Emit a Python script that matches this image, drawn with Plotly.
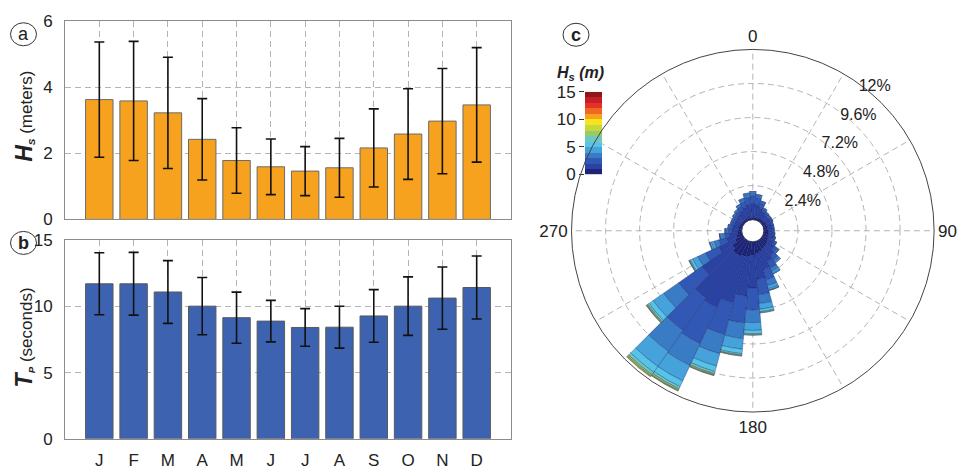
import plotly.graph_objects as go

# ---------------- data ----------------
months = ["J", "F", "M", "A", "M", "J", "J", "A", "S", "O", "N", "D"]
month_pos = [1, 2, 3, 4, 5, 6, 7, 8, 9, 10, 11, 12]
hs_mean = [3.62, 3.58, 3.22, 2.42, 1.78, 1.59, 1.46, 1.56, 2.16, 2.58, 2.97, 3.46]
hs_std = [1.74, 1.80, 1.68, 1.23, 0.99, 0.84, 0.74, 0.89, 1.18, 1.37, 1.59, 1.73]
tp_mean = [11.71, 11.71, 11.09, 10.02, 9.15, 8.89, 8.41, 8.43, 9.28, 10.02, 10.63, 11.43]
tp_std = [2.34, 2.37, 2.37, 2.16, 1.93, 1.57, 1.42, 1.58, 1.99, 2.21, 2.35, 2.38]

directions = [0, 10, 20, 30, 40, 50, 60, 70, 80, 90, 100, 110, 120, 130, 140, 150, 160, 170,
              180, 190, 200, 210, 220, 230, 240, 250, 260, 270, 280, 290, 300, 310, 320, 330, 340, 350]
hs_0_1 = [0.15, 0.15, 0.15, 0.17, 0.2, 0.22, 0.25, 0.27, 0.28, 0.3, 0.32, 0.36, 0.42, 0.5, 0.58, 0.65, 0.75, 0.85,
          0.95, 1.05, 1.1, 1.2, 1.2, 1.0, 0.6, 0.4, 0.3, 0.25, 0.22, 0.2, 0.18, 0.17, 0.16, 0.15, 0.15, 0.15]
hs_1_2 = [1.0, 0.95, 0.75, 0.52, 0.42, 0.38, 0.37, 0.33, 0.32, 0.31, 0.33, 0.37, 0.45, 0.6, 0.78, 0.97, 1.3, 1.8,
          2.3, 2.8, 3.4, 4.0, 3.8, 2.6, 1.3, 0.75, 0.55, 0.45, 0.42, 0.4, 0.42, 0.48, 0.54, 0.65, 0.8, 0.95]
hs_2_3 = [0.55, 0.45, 0.33, 0.2, 0.15, 0.14, 0.13, 0.11, 0.11, 0.1, 0.11, 0.12, 0.16, 0.25, 0.36, 0.5, 0.75, 1.1,
          1.55, 1.9, 2.3, 2.8, 2.8, 2.0, 1.0, 0.55, 0.35, 0.25, 0.2, 0.18, 0.18, 0.21, 0.24, 0.3, 0.39, 0.48]
hs_3_4 = [0.2, 0.17, 0.12, 0.08, 0.06, 0.05, 0.04, 0.04, 0.04, 0.04, 0.03, 0.04, 0.05, 0.1, 0.16, 0.25, 0.42, 0.62,
          0.9, 1.1, 1.4, 1.7, 1.8, 1.3, 0.6, 0.35, 0.2, 0.14, 0.11, 0.09, 0.09, 0.1, 0.11, 0.13, 0.18, 0.22]
hs_4_5 = [0.08, 0.06, 0.04, 0.03, 0.02, 0.01, 0.01, 0, 0, 0, 0.01, 0.01, 0.02, 0.04, 0.09, 0.15, 0.24, 0.4,
          0.55, 0.75, 0.9, 1.2, 1.3, 0.9, 0.4, 0.2, 0.12, 0.07, 0.04, 0.03, 0.03, 0.04, 0.05, 0.06, 0.06, 0.08]
hs_5_6 = [0.02, 0.02, 0.01, 0, 0, 0, 0, 0, 0, 0, 0, 0, 0, 0.01, 0.03, 0.06, 0.09, 0.18,
          0.23, 0.32, 0.4, 0.45, 0.5, 0.35, 0.18, 0.1, 0.05, 0.03, 0.01, 0, 0, 0, 0, 0.01, 0.02, 0.02]
hs_6_7 = [0, 0, 0, 0, 0, 0, 0, 0, 0, 0, 0, 0, 0, 0, 0, 0.02, 0.03, 0.06,
          0.07, 0.1, 0.15, 0.17, 0.2, 0.12, 0.07, 0.03, 0.02, 0.01, 0, 0, 0, 0, 0, 0, 0, 0]
hs_7_8 = [0, 0, 0, 0, 0, 0, 0, 0, 0, 0, 0, 0, 0, 0, 0, 0, 0.02, 0.04,
          0.05, 0.05, 0.08, 0.1, 0.1, 0.07, 0.03, 0.02, 0.01, 0, 0, 0, 0, 0, 0, 0, 0, 0]
hs_8_9 = [0, 0, 0, 0, 0, 0, 0, 0, 0, 0, 0, 0, 0, 0, 0, 0, 0, 0,
          0, 0.03, 0.05, 0.05, 0.06, 0.04, 0.02, 0, 0, 0, 0, 0, 0, 0, 0, 0, 0, 0]
hs_9_10 = [0, 0, 0, 0, 0, 0, 0, 0, 0, 0, 0, 0, 0, 0, 0, 0, 0, 0,
           0, 0, 0.02, 0.03, 0.04, 0.02, 0, 0, 0, 0, 0, 0, 0, 0, 0, 0, 0, 0]
rose_classes = [hs_0_1, hs_1_2, hs_2_3, hs_3_4, hs_4_5, hs_5_6, hs_6_7, hs_7_8, hs_8_9, hs_9_10]
class_labels = ["0-1", "1-2", "2-3", "3-4", "4-5", "5-6", "6-7", "7-8", "8-9", "9-10"]
hs_levels = [0, 1, 2, 3, 4, 5, 6, 7, 8, 9, 10, 11, 12, 13, 14]
level_colors = ["#1d2478", "#2a42a2", "#3158b4", "#3a7bc6", "#45a2db", "#55c4e6", "#6fc8bd", "#97cb66",
                "#c6d83e", "#f6e51a", "#f7a11c", "#f06724", "#e63128", "#c41f27", "#8e1717"]
radial_ticks = [2.4, 4.8, 7.2, 9.6, 12]
radial_ticktext = ["2.4%", "4.8%", "7.2%", "9.6%", "12%"]

# ---------------- geometry helpers (page has an 8px body margin) ----------------
OFF = 8
W, H = 969 - OFF, 475 - OFF
def px(x):
    return (x - OFF) / W
def py(y):
    return 1 - (y - OFF) / H

FONT = "Liberation Sans, Arial, sans-serif"
GRID = "#b4b4b4"
DASH = "6px,4px"
RAD_ANGLE = 57

fig = go.Figure()

# panel a
fig.add_trace(go.Bar(
    x=month_pos, y=hs_mean, width=0.8, xaxis="x", yaxis="y",
    marker=dict(color="#f7a21f", line=dict(color="#6b6b6b", width=1)),
    error_y=dict(type="data", array=hs_std, color="#111", thickness=1.6, width=5),
    showlegend=False))
# panel b
fig.add_trace(go.Bar(
    x=month_pos, y=tp_mean, width=0.8, xaxis="x2", yaxis="y2",
    marker=dict(color="#3d63b0", line=dict(color="#5a5a5a", width=1)),
    error_y=dict(type="data", array=tp_std, color="#111", thickness=1.6, width=5),
    showlegend=False))

# panel c: stacked rose
for vals, lab, col in zip(rose_classes, class_labels, level_colors):
    fig.add_trace(go.Barpolar(
        r=vals, theta=directions, width=10, name=lab,
        marker=dict(color=col, line=dict(color="rgba(25,35,100,0.55)", width=0.6)),
        showlegend=False, subplot="polar"))

# colour scale strip
fig.add_trace(go.Heatmap(
    z=[[v] for v in hs_levels], y=[v + 0.5 for v in hs_levels], x=[0],
    colorscale=[[i / (len(level_colors) - 1), c] for i, c in enumerate(level_colors)],
    zmin=0, zmax=len(level_colors) - 1, showscale=False, xaxis="x3", yaxis="y3",
    hoverinfo="skip"))

axis_common = dict(showline=True, linecolor="#8c8c8c", linewidth=1, mirror=True,
                   showgrid=True, gridcolor=GRID, griddash=DASH, gridwidth=1,
                   zeroline=False, ticks="", tickfont=dict(size=17, family=FONT, color="#222"))

fig.update_layout(
    width=W, height=H, autosize=False,
    margin=dict(l=0, r=0, t=0, b=0),
    paper_bgcolor="white", plot_bgcolor="white",
    font=dict(family=FONT, color="#222"),
    xaxis=dict(domain=[px(65), px(511)], range=[0, 13], tickvals=month_pos, ticktext=months,
               showticklabels=False, anchor="y", **axis_common),
    yaxis=dict(domain=[py(219), py(12)], range=[0, 6], tickvals=[0, 2, 4, 6],
               anchor="x", ticklabelstandoff=8, **axis_common),
    xaxis2=dict(domain=[px(65), px(511)], range=[0, 13], tickvals=month_pos, ticktext=months,
                anchor="y2", ticklabelstandoff=6, **axis_common),
    yaxis2=dict(domain=[py(447.7), py(240.7)], range=[0, 15], tickvals=[0, 5, 10, 15],
                anchor="x2", ticklabelstandoff=8, **axis_common),
    xaxis3=dict(domain=[px(585), px(602)], visible=False, anchor="y3"),
    yaxis3=dict(domain=[py(172), py(86)], range=[0, 15], tickvals=[0, 5, 10, 15], anchor="x3",
                ticks="outside", ticklen=5, tickcolor="#333", showgrid=False, zeroline=False,
                showline=False, tickfont=dict(size=17, family=FONT, color="#222"), side="left"),
    polar=dict(
        domain=dict(x=[px(752.8 - 189), px(752.8 + 189)], y=[py(230.8 + 189), py(230.8 - 189)]),
        hole=0.061, bgcolor="rgba(0,0,0,0)", barmode="stack",
        angularaxis=dict(rotation=90, direction="clockwise", tickmode="array",
                         tickvals=list(range(0, 360, 30)),
                         ticktext=["0", "", "", "90", "", "", "180", "", "", "270", "", ""],
                         showgrid=True, gridcolor=GRID, griddash=DASH, gridwidth=1,
                         showline=True, linecolor="#444", linewidth=1, ticks="",
                         tickfont=dict(size=17, family=FONT, color="#222"), layer="below traces"),
        radialaxis=dict(range=[0, 12], tickmode="array", tickvals=radial_ticks, ticktext=radial_ticktext,
                        angle=RAD_ANGLE, side="clockwise", tickangle=RAD_ANGLE, showline=False, ticks="",
                        showgrid=True, gridcolor=GRID, griddash=DASH, gridwidth=1,
                        tickfont=dict(size=16, family=FONT, color="#222"), layer="below traces"),
    ),
)

annotations = [
    dict(x=px(24), y=py(112), xref="paper", yref="paper", textangle=-90, showarrow=False,
         xanchor="center", yanchor="middle",
         text="<span style='font-size:23px'><b><i>H</i></b></span><span style='font-size:14px'><sub><b><i>S</i></b></sub></span> (meters)",
         font=dict(size=17, family=FONT, color="#222")),
    dict(x=px(24), y=py(342), xref="paper", yref="paper", textangle=-90, showarrow=False,
         xanchor="center", yanchor="middle",
         text="<span style='font-size:23px'><b><i>T</i></b></span><span style='font-size:14px'><sub><b><i>P</i></b></sub></span> (seconds)",
         font=dict(size=17, family=FONT, color="#222")),
    dict(x=px(580), y=py(67), xref="paper", yref="paper", showarrow=False,
         xanchor="center", yanchor="middle",
         text="<b><i>H<sub>s</sub> (m)</i></b>", font=dict(size=16, family=FONT, color="#222")),
]
for lab, cx, cy in [("a", 23.5, 26), ("b", 23.5, 243.5), ("c", 576, 26.5)]:
    annotations.append(dict(x=px(cx), y=py(cy), xref="paper", yref="paper", showarrow=False,
                            xanchor="center", yanchor="middle",
                            text="<b>%s</b>" % lab if lab != "a" else lab,
                            font=dict(size=18, family=FONT, color="#222")))
    fig.add_shape(type="circle", xref="paper", yref="paper",
                  x0=px(cx - 13), x1=px(cx + 13), y0=py(cy + 12), y1=py(cy - 12),
                  line=dict(color="#333", width=1))
fig.update_layout(annotations=annotations)

fig.write_html("out.html")
